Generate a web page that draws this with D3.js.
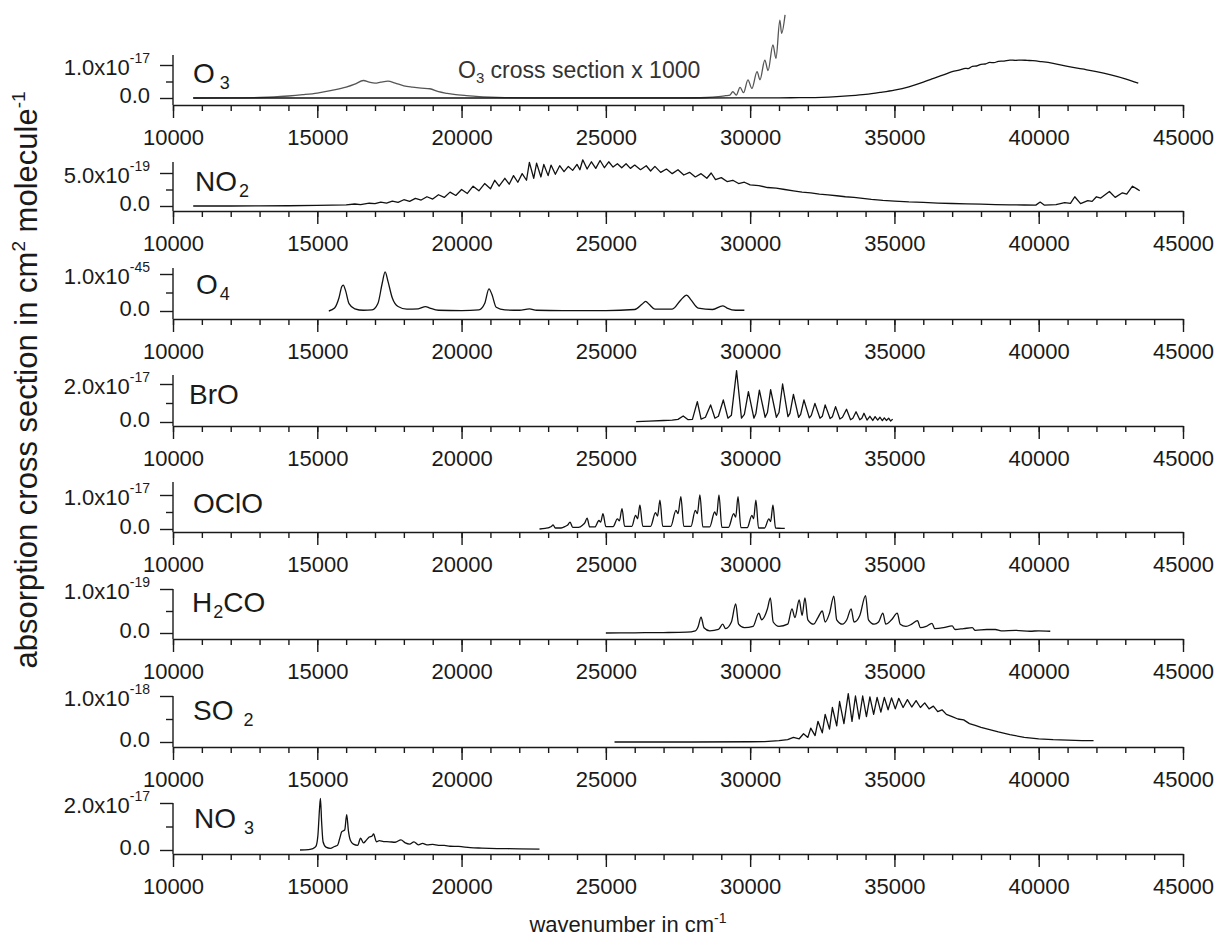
<!DOCTYPE html>
<html>
<head>
<meta charset="utf-8">
<script src="https://cdn.jsdelivr.net/npm/d3@7"></script>
<style>
body { margin: 0; background: #fff; }
svg { display: block; font-family: Arial, "Liberation Sans", sans-serif; }
.axis path, .axis line { stroke: #1a1a1a; stroke-width: 1.4; }
.axis text { font-size: 22px; fill: #1a1a1a; font-family: Arial, "Liberation Sans", sans-serif; }
.trace { fill: none; stroke: #111; stroke-width: 1.3; stroke-linejoin: round; }
.lbl { font-size: 22px; fill: #1a1a1a; }
.mol { font-size: 28px; fill: #1a1a1a; }
</style>
</head>
<body>
<svg id="chart" width="1217" height="941"></svg>
<script>
// ---- data: [wavenumber cm-1, cross section in panel units] ----
var o3Data = [[10700,0],[20000,0],[28000,0],[30000,0.002],[31000,0.005],[31700,0.01],[32500,0.02],[33000,0.04],
  [33500,0.07],[34000,0.11],[34500,0.17],[35000,0.24],[35500,0.34],[36000,0.48],[36300,0.58],[36700,0.7],
  [37000,0.8],[37300,0.86],[37450,0.9],[37550,0.89],[37700,0.96],[37850,0.97],[38000,1.02],[38150,1.03],
  [38300,1.08],[38450,1.07],[38600,1.11],[38800,1.12],[39000,1.15],[39200,1.14],[39400,1.15],[39600,1.14],
  [39800,1.13],[40100,1.10],[40500,1.05],[41000,0.96],[41500,0.88],[42000,0.80],[42500,0.70],[43000,0.58],[43450,0.45]];

// O3 multiplied by 1000
var o3x1000Data = [[10700,0],[12000,0.005],[13000,0.015],[13500,0.03],[14000,0.06],[14500,0.1],[15000,0.15],
  [15500,0.23],[16000,0.33],[16300,0.42],[16600,0.53],[16800,0.48],[17000,0.45],[17200,0.48],[17450,0.51],
  [17700,0.45],[18000,0.37],[18300,0.33],[18600,0.30],[18900,0.28],[19200,0.19],[19500,0.14],[19800,0.1],
  [20100,0.08],[20500,0.05],[21000,0.025],[21500,0.012],[22500,0.005],[25000,0.002],[27500,0.005],[28500,0.015],
  [28900,0.04],[29150,0.07],[29300,0.09],[29400,0.19],[29520,0.09],[29650,0.32],[29770,0.16],[29925,0.55],
  [30060,0.29],[30240,0.80],[30340,0.55],[30510,1.15],[30620,0.83],[30790,1.61],[30895,1.20],[31030,2.36],
  [31090,1.96],[31210,2.52]];

var no2Data = [[10700,0],[12000,0],[13000,0.02],[14000,0.04],[15000,0.08],[15500,0.12],[16000,0.18],[16300,0.3],
  [16500,0.22],[16800,0.42],[17000,0.35],[17200,0.6],[17400,0.45],[17600,0.75],[17800,0.55],[18000,0.95],
  [18200,0.7],[18400,1.15],[18600,0.9],[18800,1.4],[19000,1.05],[19200,1.7],[19400,1.3],[19600,2.1],[19800,1.6],
  [20000,2.5],[20200,1.9],[20400,3.0],[20600,2.3],[20800,3.4],[21000,2.6],[21150,3.9],[21300,3.0],[21500,4.2],
  [21650,3.3],[21800,4.6],[21950,3.6],[22100,4.9],[22250,3.9],[22350,6.6],[22500,4.2],[22600,6.5],[22750,4.4],
  [22850,6.3],[23000,4.6],[23100,6.2],[23250,4.8],[23400,6.1],[23550,5.2],[23700,6.0],[23850,5.4],[24000,6.3],
  [24100,5.5],[24200,7.0],[24350,5.6],[24500,6.7],[24650,5.7],[24800,6.9],[24950,5.8],[25100,6.7],[25250,5.9],
  [25400,6.4],[25550,5.8],[25700,6.4],[25850,5.7],[26000,6.2],[26200,5.5],[26400,6.1],[26550,5.3],[26700,6.0],
  [26900,5.1],[27100,5.6],[27300,4.9],[27500,5.5],[27700,4.7],[27900,5.1],[28100,4.4],[28300,4.9],[28500,4.2],
  [28650,5.0],[28800,4.0],[29000,4.3],[29200,3.7],[29400,3.9],[29600,3.4],[29800,3.6],[30000,3.2],[30300,3.1],
  [30600,2.8],[30900,2.7],[31200,2.5],[31500,2.3],[31800,2.1],[32100,2.0],[32400,1.8],[32700,1.7],[33000,1.55],
  [33300,1.4],[33600,1.3],[33900,1.15],[34200,1.0],[34600,0.85],[35000,0.75],[35500,0.62],[36000,0.55],
  [36500,0.45],[37000,0.38],[37500,0.32],[38000,0.27],[38500,0.22],[39000,0.18],[39500,0.15],[39900,0.13],
  [40050,0.6],[40200,0.12],[40600,0.2],[40900,0.5],[41100,0.4],[41250,1.4],[41450,0.35],[41700,0.8],[41850,0.7],
  [42000,1.4],[42150,1.2],[42450,2.2],[42650,1.3],[42900,2.0],[43050,1.8],[43250,3.0],[43400,2.6],[43500,2.3]];

var o4Data = [[15400,0.0],[15600,0.08],[15750,0.35],[15850,0.66],[15900,0.70],[15980,0.55],[16100,0.2],[16300,0.06],
  [16600,0.02],[16900,0.03],[17100,0.2],[17250,0.75],[17350,1.06],[17450,0.8],[17600,0.35],[17800,0.12],
  [18100,0.05],[18500,0.06],[18750,0.12],[18900,0.08],[19200,0.02],[20000,0.01],[20600,0.03],[20800,0.2],
  [20950,0.6],[21050,0.45],[21200,0.1],[21500,0.03],[22000,0.02],[22350,0.06],[22600,0.02],[23500,0.01],
  [25000,0.01],[26000,0.04],[26250,0.18],[26380,0.26],[26500,0.18],[26700,0.05],[27300,0.05],[27600,0.3],
  [27800,0.43],[27950,0.3],[28200,0.08],[28700,0.04],[29050,0.14],[29200,0.08],[29500,0.02],[29800,0.02]];

var broData = [[26050,0.02],[26500,0.05],[27000,0.08],[27300,0.1],[27500,0.14],[27680,0.32],[27850,0.12],[28000,0.14],
  [28170,1.07],[28300,0.15],[28450,0.25],[28630,0.9],[28780,0.2],[28900,0.3],[29070,1.16],[29230,0.2],[29350,0.35],
  [29530,2.7],[29700,0.2],[29800,0.4],[29940,1.6],[30130,0.2],[30200,0.45],[30320,1.68],[30520,0.25],[30600,0.5],
  [30710,1.7],[30910,0.25],[31000,0.5],[31125,2.0],[31310,0.28],[31380,0.45],[31500,1.45],[31680,0.25],[31750,0.4],
  [31865,1.16],[32050,0.22],[32120,0.35],[32245,0.98],[32420,0.2],[32500,0.3],[32600,0.9],[32770,0.18],[32850,0.28],
  [32960,0.81],[33110,0.16],[33200,0.25],[33340,0.67],[33480,0.12],[33560,0.2],[33670,0.54],[33800,0.12],[33870,0.2],
  [33945,0.46],[34050,0.1],[34150,0.3],[34250,0.08],[34330,0.28],[34420,0.1],[34500,0.25],[34580,0.07],[34650,0.22],
  [34720,0.08],[34800,0.2],[34870,0.05],[34940,0.15]];

var ocloData = [[22700,0.0],[22900,0.02],[23050,0.05],[23120,0.08],[23170,0.12],[23250,0.03],[23450,0.03],[23600,0.08],
  [23680,0.12],[23760,0.2],[23850,0.05],[24050,0.05],[24200,0.12],[24270,0.18],[24350,0.32],[24440,0.06],[24620,0.06],
  [24760,0.25],[24820,0.2],[24900,0.45],[25000,0.07],[25250,0.07],[25400,0.3],[25470,0.24],[25560,0.6],[25650,0.08],
  [25900,0.08],[26030,0.4],[26100,0.3],[26180,0.7],[26280,0.08],[26550,0.08],[26720,0.48],[26790,0.38],[26875,0.85],
  [26970,0.08],[27250,0.08],[27430,0.55],[27500,0.45],[27600,0.95],[27700,0.08],[27950,0.08],[28100,0.55],[28170,0.45],
  [28260,1.0],[28360,0.06],[28600,0.06],[28770,0.5],[28840,0.4],[28920,1.0],[29020,0.05],[29250,0.05],[29430,0.45],
  [29500,0.35],[29580,0.95],[29680,0.04],[29900,0.04],[30060,0.4],[30120,0.3],[30200,0.85],[30290,0.03],[30500,0.03],
  [30650,0.3],[30710,0.22],[30790,0.7],[30880,0.03],[31100,0.02],[31200,0.02]];

var h2coData = [[25000,0.0],[26000,0.005],[27000,0.01],[27800,0.02],[28100,0.05],[28200,0.15],[28300,0.36],[28400,0.12],
  [28600,0.05],[28900,0.08],[29050,0.2],[29150,0.1],[29350,0.25],[29500,0.66],[29600,0.2],[29800,0.12],[30100,0.15],
  [30300,0.45],[30400,0.3],[30600,0.55],[30700,0.8],[30800,0.25],[31000,0.15],[31300,0.2],[31450,0.55],[31550,0.35],
  [31700,0.75],[31800,0.4],[31900,0.8],[32000,0.3],[32200,0.2],[32350,0.35],[32500,0.5],[32600,0.25],[32750,0.45],
  [32900,0.84],[33000,0.3],[33200,0.2],[33350,0.3],[33500,0.55],[33600,0.25],[33800,0.4],[34000,0.85],[34100,0.3],
  [34300,0.2],[34450,0.25],[34600,0.45],[34700,0.2],[34900,0.3],[35100,0.45],[35200,0.2],[35400,0.15],[35600,0.2],
  [35800,0.28],[35900,0.12],[36100,0.15],[36300,0.22],[36400,0.1],[36700,0.12],[37000,0.16],[37100,0.08],[37400,0.1],
  [37700,0.12],[37800,0.06],[38200,0.08],[38500,0.08],[38700,0.05],[39200,0.06],[39700,0.04],[40000,0.05],[40400,0.04]];

var so2Data = [[25300,0],[28000,0],[30000,0.005],[30500,0.01],[31000,0.03],[31300,0.05],[31500,0.1],[31700,0.07],
  [31850,0.18],[32000,0.1],[32100,0.3],[32250,0.14],[32350,0.45],[32500,0.2],[32600,0.6],[32750,0.28],[32850,0.75],
  [33000,0.35],[33100,0.88],[33250,0.4],[33400,1.05],[33530,0.45],[33650,1.0],[33780,0.5],[33900,1.0],[34030,0.55],
  [34150,0.98],[34280,0.6],[34400,0.97],[34530,0.65],[34650,0.97],[34780,0.7],[34900,0.96],[35030,0.72],[35150,0.95],
  [35300,0.75],[35450,0.92],[35600,0.76],[35750,0.9],[35900,0.75],[36050,0.85],[36200,0.72],[36350,0.78],[36500,0.66],
  [36650,0.7],[36800,0.6],[37000,0.55],[37200,0.5],[37400,0.48],[37600,0.4],[37800,0.36],[38000,0.32],[38300,0.27],
  [38600,0.22],[39000,0.16],[39500,0.1],[40000,0.07],[40500,0.05],[41000,0.04],[41500,0.03],[41900,0.03]];

var no3Data = [[14400,0],[14700,0.02],[14850,0.06],[14950,0.15],[15020,0.6],[15080,1.8],[15110,2.2],[15150,1.2],
  [15200,0.35],[15300,0.12],[15450,0.07],[15600,0.15],[15700,0.2],[15780,0.5],[15850,0.78],[15950,0.85],[16020,1.5],
  [16080,0.8],[16150,0.4],[16250,0.25],[16400,0.2],[16500,0.5],[16600,0.3],[16700,0.42],[16800,0.55],[16900,0.6],
  [16950,0.68],[17050,0.35],[17150,0.4],[17300,0.36],[17500,0.35],[17700,0.33],[17900,0.43],[18050,0.3],[18200,0.25],
  [18350,0.35],[18500,0.22],[18650,0.28],[18800,0.22],[19000,0.24],[19200,0.2],[19400,0.2],[19600,0.16],[19900,0.15],
  [20300,0.1],[20700,0.08],[21300,0.06],[22000,0.05],[22700,0.04]];

// molecule labels: [text, subscript?]
var molLabels = [
  [["O",0],["3",1]], [["NO",0],["2",1]], [["O",0],["4",1]], [["BrO",0]],
  [["OClO",0]], [["H",0],["2",1],["CO",0]], [["SO",0],["2",1]], [["NO",0],["3",1]]
];
var topValues = [1, 5, 1, 2, 1, 1, 1, 2];           // top y tick, in panel units
var topMantissa = ["1.0", "5.0", "1.0", "2.0", "1.0", "1.0", "1.0", "2.0"];
var topExponent = ["-17", "-19", "-45", "-17", "-17", "-19", "-18", "-17"];
var series = [o3Data, no2Data, o4Data, broData, ocloData, h2coData, so2Data, no3Data];
var majorTicks = [10000, 15000, 20000, 25000, 30000, 35000, 40000, 45000];
var minorTicks = d3.range(10000, 45001, 1000);

// ---- layout (pixel rows of each panel) ----
var rows = [
  {axTop: 55,  top: 65,  zero: 98,  base: 105},
  {axTop: 162, top: 173, zero: 206, base: 211},
  {axTop: 268, top: 274, zero: 311, base: 319},
  {axTop: 375, top: 384, zero: 422, base: 426},
  {axTop: 482, top: 495, zero: 529, base: 532},
  {axTop: 589, top: 589, zero: 633, base: 639},
  {axTop: 696, top: 696, zero: 742, base: 747},
  {axTop: 803, top: 803, zero: 850, base: 854}
];
var molX = [193, 195, 196, 189, 193, 192, 193, 194];
var subGap = [5, 2, 2, 0, 0, 1, 10, 8];
var left = 173, right = 1183;

var svg = d3.select("#chart");
var x = d3.scaleLinear().domain([10000, 45000]).range([left, right]);

rows.forEach(function(r, i) {
  var y = d3.scaleLinear().domain([0, topValues[i]]).range([r.zero, r.top]);
  var g = svg.append("g");

  // x axis
  g.append("g").attr("class", "axis").attr("transform", "translate(0," + r.base + ")")
      .call(d3.axisBottom(x).tickValues(minorTicks).tickSize(6).tickSizeOuter(0).tickFormat(""));
  g.append("g").attr("class", "axis").attr("transform", "translate(0," + r.base + ")")
      .call(d3.axisBottom(x).tickValues(majorTicks).tickSize(13).tickSizeOuter(0).tickPadding(11)
        .tickFormat(d3.format("d")))
      .select(".domain").remove();

  // y axis
  var ya = g.append("g").attr("class", "axis").attr("transform", "translate(" + left + ",0)");
  ya.call(d3.axisLeft(y).tickValues([0, topValues[i]]).tickSize(13).tickFormat(""));
  ya.select(".domain").remove();
  ya.append("g").call(d3.axisLeft(y).tickValues([topValues[i] / 2]).tickSize(7).tickFormat(""))
    .select(".domain").remove();
  ya.append("line").attr("x1", 0).attr("x2", 0).attr("y1", r.axTop).attr("y2", r.base);

  g.append("text").attr("class", "lbl").attr("x", 150).attr("y", y(0) + 5)
      .attr("text-anchor", "end").text("0.0");
  var t = g.append("text").attr("class", "lbl").attr("x", 150).attr("y", y(topValues[i]) + 10)
      .attr("text-anchor", "end");
  t.append("tspan").text(topMantissa[i] + "x10");
  t.append("tspan").attr("dy", -12).style("font-size", "14px").text(topExponent[i]);

  // molecule name
  var m = g.append("text").attr("class", "mol").attr("x", molX[i]).attr("y", (r.top + r.zero) / 2 + 1);
  molLabels[i].forEach(function(p, k) {
    var prevSub = k > 0 && molLabels[i][k - 1][1];
    var ts = m.append("tspan").text(p[0]);
    if (p[1]) ts.attr("dy", 6).attr("dx", subGap[i]).style("font-size", "18px");
    else if (prevSub) ts.attr("dy", -6);
  });

  var line = d3.line().x(function(d) { return x(d[0]); }).y(function(d) { return y(d[1]); })
      .curve(i === 1 || i === 3 || i === 6 ? d3.curveLinear : d3.curveMonotoneX);

  if (i === 0) {
    g.append("path").datum(o3x1000Data).attr("class", "trace").attr("d", line).style("stroke", "#555");
    var ann = g.append("text").attr("class", "lbl").attr("x", 458).attr("y", 78)
        .style("fill", "#333").style("font-size", "23px");
    ann.append("tspan").text("O");
    ann.append("tspan").attr("dy", 5).style("font-size", "15px").text("3");
    ann.append("tspan").attr("dy", -5).text(" cross section x 1000");
  }
  g.append("path").datum(series[i]).attr("class", "trace").attr("d", line);
});

// axis titles
var xt = svg.append("text").attr("class", "lbl").attr("x", 628).attr("y", 932).attr("text-anchor", "middle");
xt.append("tspan").text("wavenumber in cm");
xt.append("tspan").attr("dy", -9).style("font-size", "14px").text("-1");

var yt = svg.append("text").attr("class", "lbl").attr("text-anchor", "middle").style("font-size", "31px")
    .attr("transform", "translate(37,380) rotate(-90)");
yt.append("tspan").text("absorption cross section in cm");
yt.append("tspan").attr("dy", -12).style("font-size", "19px").text("2");
yt.append("tspan").attr("dy", 12).text(" molecule");
yt.append("tspan").attr("dy", -12).style("font-size", "19px").text("-1");
</script>
</body>
</html>
